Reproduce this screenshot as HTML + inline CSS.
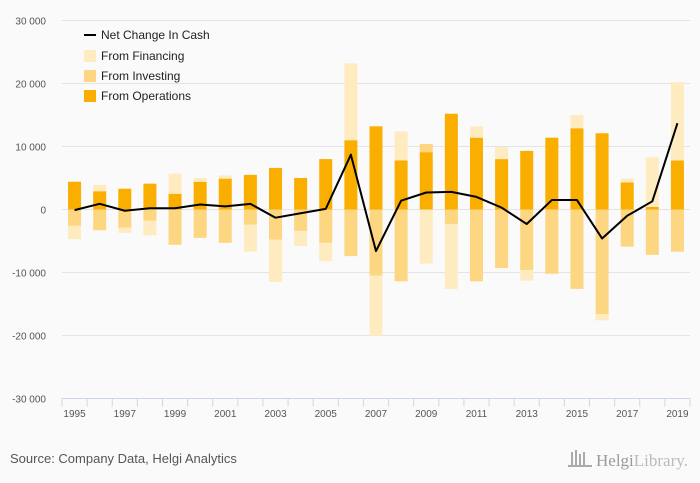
<!DOCTYPE html>
<html><head><meta charset="utf-8"><style>
body{margin:0;background:#fafafa;}
svg{display:block;font-family:"Liberation Sans",sans-serif;}
</style></head><body>
<svg id="chart" width="700" height="483" viewBox="0 0 700 483">
<rect width="700" height="483" fill="#fafafa"/>
<g id="grid"></g><g id="bars"></g><g id="line"></g><g id="axes"></g>
<g font-size="12" fill="#222">
 <g><line x1="84" y1="35" x2="96" y2="35" stroke="#000" stroke-width="2"/><text x="101" y="39">Net Change In Cash</text></g>
 <g><rect x="84" y="50" width="12" height="12" fill="#FFEBC0"/><text x="101" y="60">From Financing</text></g>
 <g><rect x="84" y="70" width="12" height="12" fill="#FCD681"/><text x="101" y="80">From Investing</text></g>
 <g><rect x="84" y="90" width="12" height="12" fill="#F9AE00"/><text x="101" y="100">From Operations</text></g>
</g>
<text x="10" y="463" font-size="13" fill="#555">Source: Company Data, Helgi Analytics</text>
<g fill="#aaa">
 <rect x="571" y="452" width="2" height="14"/><rect x="575" y="450" width="2" height="16"/><rect x="579" y="454" width="2" height="12"/><rect x="583" y="452" width="2" height="14"/><rect x="568" y="465" width="24" height="2"/>
 <text x="596" y="466" font-size="17" font-family="Liberation Serif,serif" fill="#999">Helgi<tspan fill="#bbb">Library.</tspan></text>
</g>
</svg>
<script>
const years=[1995,1996,1997,1998,1999,2000,2001,2002,2003,2004,2005,2006,2007,2008,2009,2010,2011,2012,2013,2014,2015,2016,2017,2018,2019];
const operations=[4400,2900,3300,4100,2500,4400,4900,5500,6600,5000,8000,11000,13200,7800,9100,15200,11400,8000,9300,11400,12900,12100,4300,400,7800];
const investing=[-2600,-3300,-2900,-1800,-5600,-4500,-5300,-2400,-4800,-3400,-5300,-7400,-10500,-11400,1300,-2300,-11400,-9300,-9600,-10200,-12600,-16600,-5900,-7200,-6700];
const financing=[-2100,1000,-800,-2300,3200,600,500,-4300,-6700,-2400,-2900,12200,-9500,4600,-8600,-10300,1800,1900,-1700,0,2100,-1000,600,7900,12400];
const netChange=[-100,900,-200,200,200,800,500,900,-1300,-600,100,8700,-6600,1400,2700,2800,2000,300,-2300,1500,1500,-4600,-1000,1300,13700];
const yTicks=[-30000,-20000,-10000,0,10000,20000,30000];
const yTickLabels=["-30 000","-20 000","-10 000","0","10 000","20 000","30 000"];
const xLabels=["1995","1997","1999","2001","2003","2005","2007","2009","2011","2013","2015","2017","2019"];

const NS="http://www.w3.org/2000/svg";
const L=62,R=690,T=20,B=398.5;
const bw=(R-L)/years.length;
function y(v){return 209.5-v*63/10000;}
function xc(i){return L+bw*(i+0.5);}
function mk(tag,attrs,parent){const e=document.createElementNS(NS,tag);for(const k in attrs)e.setAttribute(k,attrs[k]);parent.appendChild(e);return e;}
const grid=document.getElementById('grid'),bars=document.getElementById('bars'),lineG=document.getElementById('line'),axes=document.getElementById('axes');
yTicks.forEach((t,i)=>{
 if(t!==-30000){const g=mk('line',{x1:L,x2:R,y1:y(t),y2:y(t),stroke:'#e4e4e4','stroke-width':1},grid);
 
 }
 const tx=mk('text',{x:46,y:y(t)+4,'font-size':10,fill:'#555','text-anchor':'end'},axes);
 tx.textContent=yTickLabels[i];
 
 
});
const ax=mk('line',{x1:L,x2:R,y1:B,y2:B,stroke:'#ccd6eb'},axes);


for(let i=0;i<=years.length;i++){const tk=mk('line',{x1:L+bw*i,x2:L+bw*i,y1:B,y2:B+8,stroke:'#ccd6eb'},axes);
 
 }
xLabels.forEach(lb=>{const i=years.indexOf(+lb);
 const tx=mk('text',{x:xc(i),y:417,'font-size':10,fill:'#555','text-anchor':'middle'},axes);
 tx.textContent=lb;
 
 });
const series=[[operations,'#F9AE00','bar-operations'],[investing,'#FCD681','bar-investing'],[financing,'#FFEBC0','bar-financing']];
years.forEach((yr,i)=>{let pos=0,neg=0;
 series.forEach(([arr,col,name])=>{const v=arr[i];if(!v)return;let a,b;
  if(v>0){a=pos;b=pos+v;pos=b;}else{a=neg;b=neg+v;neg=b;}
  const r=mk('rect',{x:xc(i)-6.5,width:13,y:Math.min(y(a),y(b)),height:Math.abs(y(a)-y(b)),fill:col},bars);
  
  });
});
const p=mk('polyline',{points:netChange.map((v,i)=>xc(i)+','+y(v)).join(' '),fill:'none',stroke:'#000','stroke-width':2,'stroke-linejoin':'round'},lineG);


</script>
</body></html>
